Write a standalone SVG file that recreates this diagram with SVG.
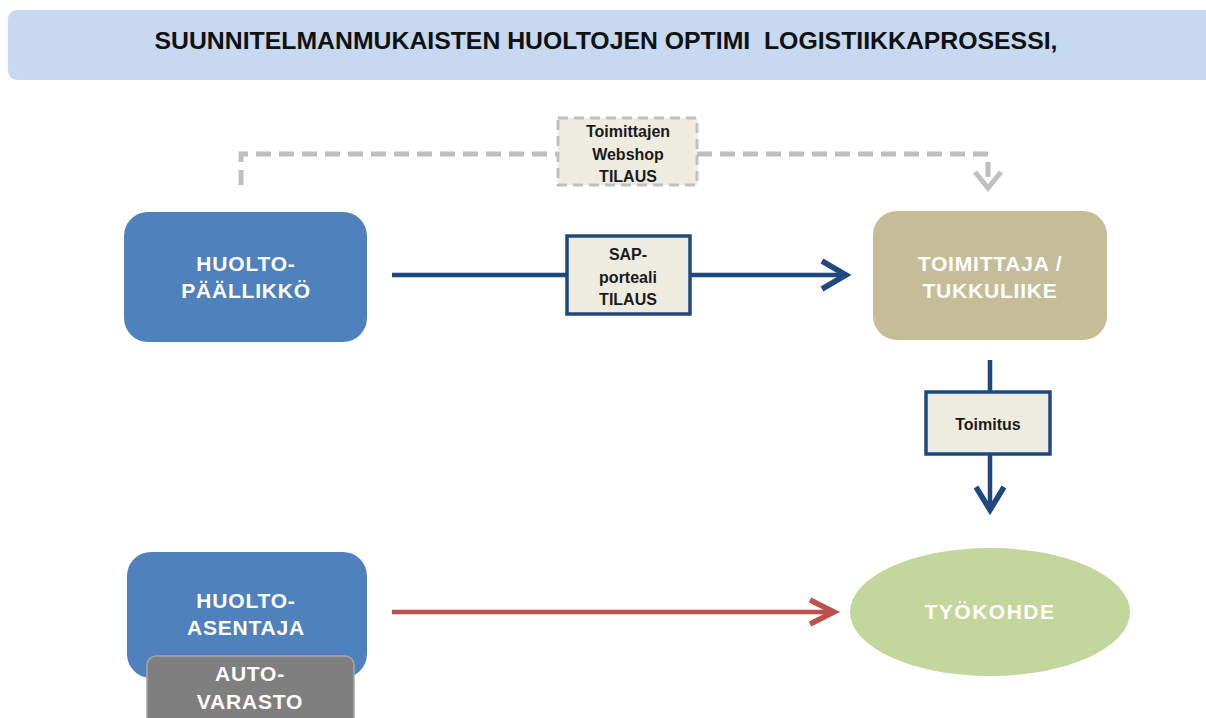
<svg xmlns="http://www.w3.org/2000/svg" width="1206" height="718" viewBox="0 0 1206 718">
  <style>
    .lbl { font-family: "Liberation Sans", Arial, sans-serif; font-weight: bold; text-anchor: middle; }
    .node-txt { fill: #ffffff; font-size: 21px; letter-spacing: 0.8px; }
    .tag-txt { fill: #1a1a1a; font-size: 16px; }
    .flow { fill: none; stroke: #1f497d; stroke-width: 4.5; }
    .web { fill: none; stroke: #bfbfbf; stroke-width: 5; stroke-dasharray: 15 8; }
  </style>

  <rect width="1206" height="718" fill="#ffffff"/>

  <!-- title banner -->
  <g id="title">
    <rect x="8" y="10" width="1210" height="70" rx="9" fill="#c6d9f0"/>
    <text class="lbl" x="606" y="49" font-size="23" fill="#111" textLength="903" lengthAdjust="spacingAndGlyphs">SUUNNITELMANMUKAISTEN HUOLTOJEN OPTIMI&#160; LOGISTIIKKAPROSESSI,</text>
  </g>

  <!-- connectors -->
  <g id="connectors">
    <!-- web shop order path (dashed) -->
    <path class="web" d="M241 185 V154 H558"/>
    <path class="web" d="M697 154 H988 V184"/>
    <path d="M975 172 L988 188 L1001 172" fill="none" stroke="#bfbfbf" stroke-width="5"/>
    <!-- SAP order -->
    <path class="flow" d="M392 275 H566"/>
    <path class="flow" d="M690 275 H846"/>
    <path d="M822 261 L846 275 L822 289" fill="none" stroke="#1f497d" stroke-width="5.5"/>
    <!-- delivery -->
    <path class="flow" d="M990 360 V392"/>
    <path class="flow" d="M990 454 V508"/>
    <path d="M976 487 L990 510 L1004 487" fill="none" stroke="#1f497d" stroke-width="5.5"/>
    <!-- technician to work site -->
    <path d="M392 612 H830" fill="none" stroke="#c0504d" stroke-width="4.5"/>
    <path d="M810 600 L834 612 L810 624" fill="none" stroke="#c0504d" stroke-width="5.5"/>
  </g>

  <g id="webshop">
    <rect x="558" y="118" width="139" height="67" fill="#eeece1" stroke="#bfbfbf" stroke-width="3" stroke-dasharray="10 6"/>
    <text class="lbl tag-txt" x="628" y="137">Toimittajen</text>
    <text class="lbl tag-txt" x="628" y="160">Webshop</text>
    <text class="lbl tag-txt" x="628" y="182">TILAUS</text>
  </g>

  <g id="huoltopaallikko">
    <rect x="124" y="212" width="243" height="130" rx="24" fill="#4f81bd"/>
    <text class="lbl node-txt" x="246" y="271">HUOLTO-</text>
    <text class="lbl node-txt" x="246" y="298">PÄÄLLIKKÖ</text>
  </g>

  <g id="sap">
    <rect x="567" y="236" width="123" height="78" fill="#eeece1" stroke="#1f497d" stroke-width="3.5"/>
    <text class="lbl tag-txt" x="628" y="260">SAP-</text>
    <text class="lbl tag-txt" x="628" y="283">porteali</text>
    <text class="lbl tag-txt" x="628" y="305">TILAUS</text>
  </g>

  <g id="toimittaja">
    <rect x="873" y="211" width="234" height="129" rx="24" fill="#c4bd97"/>
    <text class="lbl node-txt" x="990" y="271">TOIMITTAJA /</text>
    <text class="lbl node-txt" x="990" y="298">TUKKULIIKE</text>
  </g>

  <g id="toimitus">
    <rect x="926" y="392" width="124" height="62" fill="#eeece1" stroke="#1f497d" stroke-width="3.5"/>
    <text class="lbl tag-txt" x="988" y="430">Toimitus</text>
  </g>

  <g id="huoltoasentaja">
    <rect x="127" y="552" width="240" height="126" rx="24" fill="#4f81bd"/>
    <text class="lbl node-txt" x="246" y="608">HUOLTO-</text>
    <text class="lbl node-txt" x="246" y="635">ASENTAJA</text>
  </g>

  <g id="autovarasto">
    <rect x="147" y="656" width="207" height="70" rx="9" fill="#7f7f7f" stroke="#a6a6a6" stroke-width="1.5"/>
    <text class="lbl node-txt" x="250" y="681">AUTO-</text>
    <text class="lbl node-txt" x="250" y="709">VARASTO</text>
  </g>

  <g id="tyokohde">
    <ellipse cx="990" cy="612" rx="140" ry="64" fill="#c3d69b"/>
    <text class="lbl node-txt" x="990" y="619" style="letter-spacing:1.5px">TYÖKOHDE</text>
  </g>
</svg>
